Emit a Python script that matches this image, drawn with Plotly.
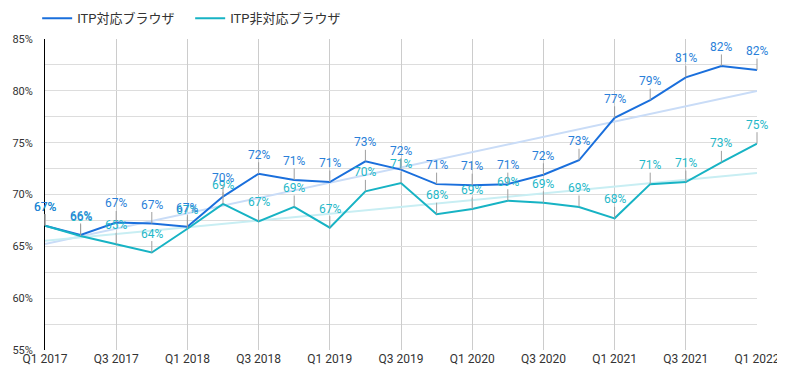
import numpy as np
import plotly.graph_objects as go

quarters = [f"Q{q} {y}" for y in range(2017, 2023) for q in (1, 2, 3, 4)][:21]
itp = [67.0, 66.1, 67.3, 67.2, 66.9, 69.8, 72.0, 71.4, 71.2, 73.2, 72.4, 71.0, 70.9,
       71.0, 71.9, 73.3, 77.4, 79.1, 81.3, 82.4, 82.0]
non_itp = [67.0, 66.0, 65.2, 64.4, 66.7, 69.1, 67.4, 68.8, 66.8, 70.3, 71.1, 68.1, 68.6,
           69.4, 69.2, 68.8, 67.7, 71.0, 71.2, 73.1, 74.9]
tick_labels = quarters[::2]

BLUE = "#1a6fdc"
TEAL = "#17b3c4"
BLUE_T = "#c9dcf7"
TEAL_T = "#c8eef3"
XFONT = dict(family="Roboto", size=12, color="#333")
YFONT = dict(family="Roboto", size=11, color="#333")

idx = np.arange(len(quarters))
fig = go.Figure()
for vals, col in ((itp, BLUE_T), (non_itp, TEAL_T)):
    k, b = np.polyfit(idx, vals, 1)
    fig.add_trace(go.Scatter(x=quarters, y=k * idx + b, mode="lines",
                             line=dict(color=col, width=2), showlegend=False, hoverinfo="skip"))

fig.add_trace(go.Scatter(x=quarters, y=itp, mode="lines", name="ITP対応ブラウザ",
                         line=dict(color=BLUE, width=2)))
fig.add_trace(go.Scatter(x=quarters, y=non_itp, mode="lines", name="ITP非対応ブラウザ",
                         line=dict(color=TEAL, width=2)))

ann = []
for vals, col in ((non_itp, "#1fb8c9"), (itp, "#2a7fd9")):
    for q, v in zip(quarters, vals):
        ann.append(dict(x=q, y=v, text=f"{round(v)}%", showarrow=True, ax=0, ay=-19,
                        arrowhead=0, arrowwidth=1, arrowcolor="#9e9e9e", standoff=0,
                        font=dict(family="Roboto", size=12, color=col), borderpad=0))

# page body has an 8px margin, so offsets compensate for it
fig.update_layout(
    width=785, height=391,
    margin=dict(l=37, r=36, t=31, b=49, autoexpand=False),
    plot_bgcolor="white", paper_bgcolor="white",
    annotations=ann,
    legend=dict(orientation="h", x=-0.011, xanchor="left", xref="paper",
                y=1.115, yanchor="top", yref="paper", entrywidth=108,
                font=dict(family="Roboto, Noto Sans CJK JP", size=13, color="#333")),
    showlegend=True,
)
fig.update_xaxes(type="category", range=[0, 20], tickvals=tick_labels, ticktext=tick_labels,
                 showgrid=True, gridcolor="#cccccc", gridwidth=1, zeroline=False,
                 tickfont=XFONT, ticks="", showline=False, automargin=False)
fig.update_yaxes(range=[55, 85], dtick=5, ticksuffix="%", showgrid=True, gridcolor="#dddddd",
                 minor=dict(dtick=2.5, showgrid=True, gridcolor="#dddddd"),
                 zeroline=False, showline=True, linecolor="black", linewidth=1,
                 tickfont=YFONT, ticks="", automargin=False, ticklabelstandoff=9)
fig.write_html("out.html")
